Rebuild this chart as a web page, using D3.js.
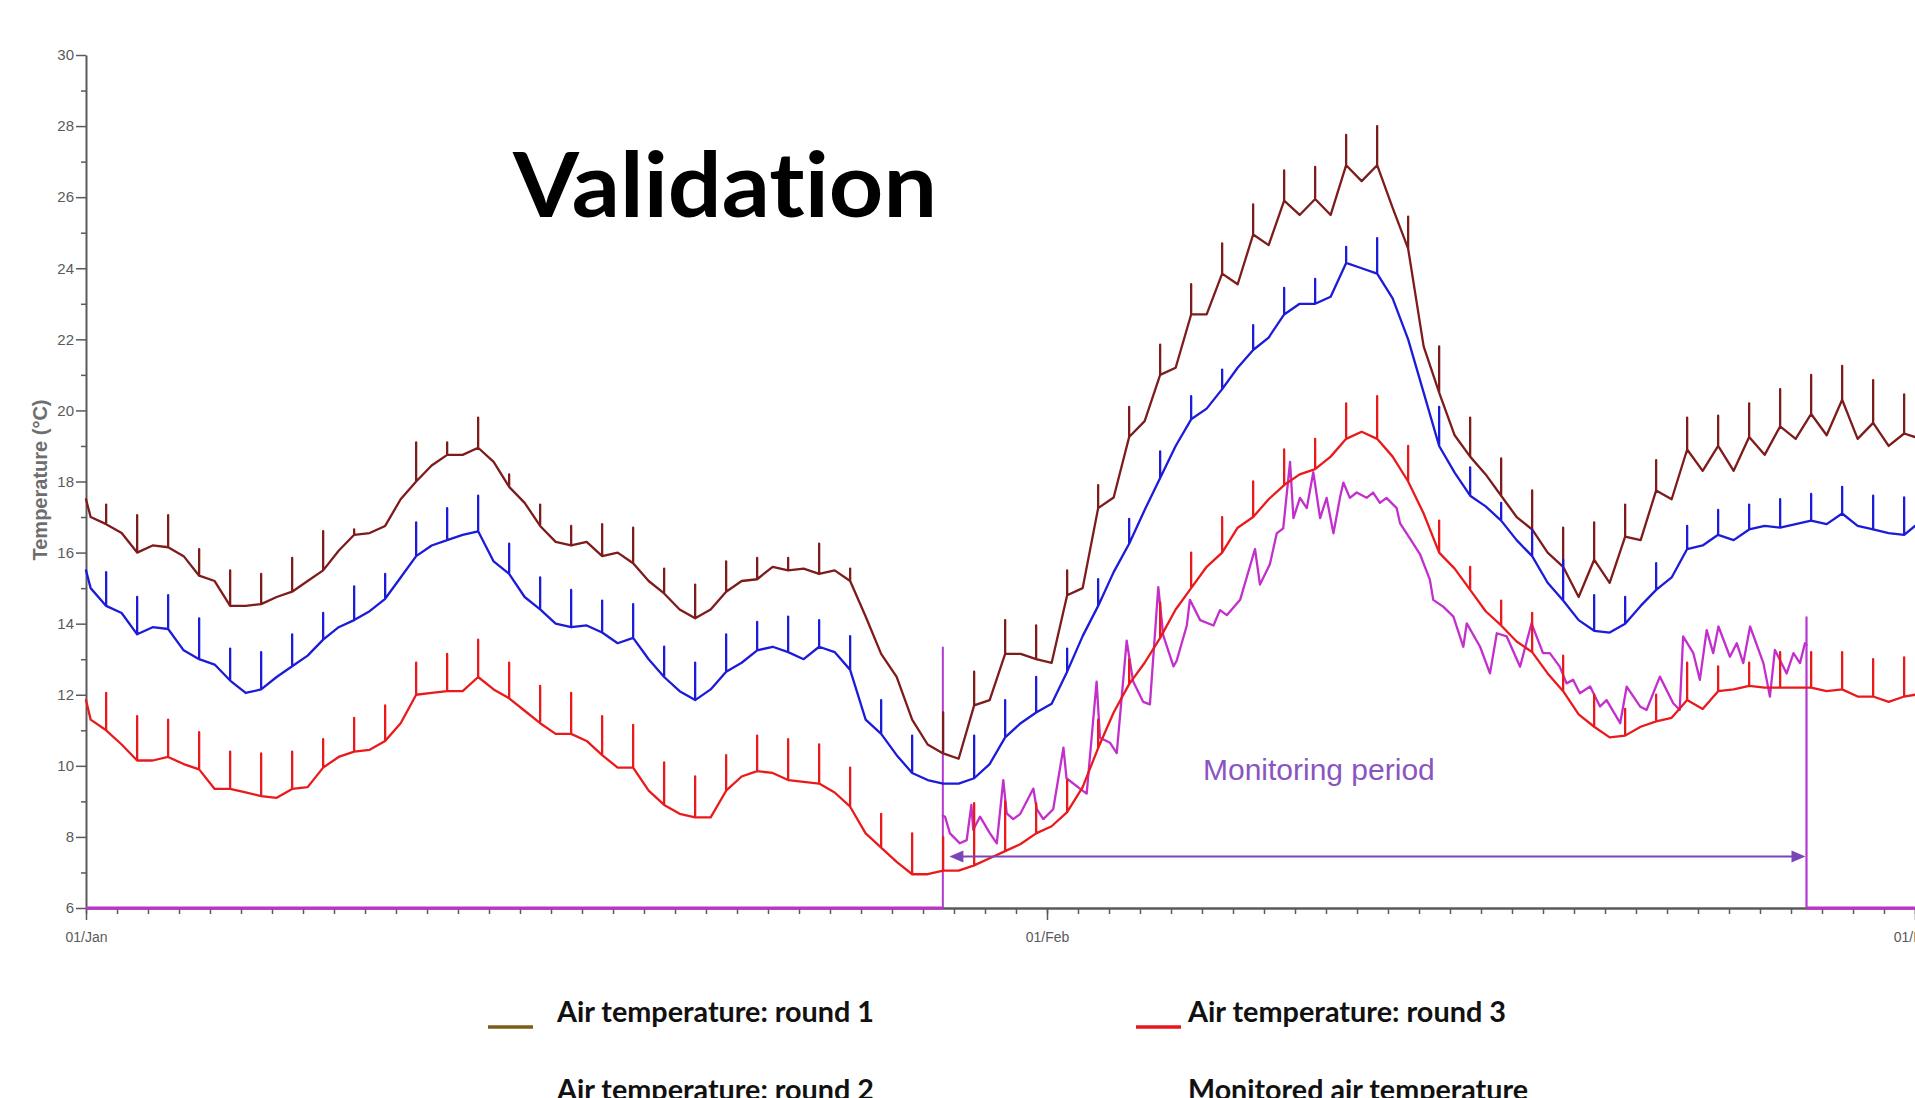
<!DOCTYPE html>
<html><head><meta charset="utf-8">
<script src="https://cdn.jsdelivr.net/npm/d3@7"></script>
<style>
html,body{margin:0;padding:0;background:#fff;overflow:hidden}
svg{display:block}
</style></head>
<body>
<svg id="chart" width="1915" height="1098"></svg>
<script>
// ---------------- DATA ----------------
const dayCount = 59;                        // 01/Jan .. 01/Mar
const monthLabels = ["01/Jan", "01/Feb", "01/Mar"];
const monthDays = [0, 31, 59];
const yTickValues = [6, 8, 10, 12, 14, 16, 18, 20, 22, 24, 26, 28, 30];
const yMinorValues = [7, 9, 11, 13, 15, 17, 19, 21, 23, 25, 27, 29];

// sample times: start, then two readings per day (night low / afternoon), end
const sampleTimes = [0].concat(d3.range(dayCount).flatMap(d => [d + 0.15, d + 0.65]), [dayCount]);
// daily spike occurs at the afternoon reading (d + 0.65)

const round1Base = [17.5,
 17.0,16.8, 16.55,16.0, 16.2,16.15, 15.9,15.35, 15.2,14.5, 14.5,14.55, 14.75,14.9, 15.2,15.5, 16.05,16.5, 16.55,16.75,
 17.5,18.0, 18.45,18.75, 18.75,18.95, 18.55,17.85, 17.4,16.75, 16.3,16.2, 16.3,15.9, 16.0,15.7, 15.2,14.85, 14.4,14.15,
 14.4,14.9, 15.2,15.25, 15.6,15.5, 15.55,15.4, 15.5,15.2, 14.2,13.15, 12.5,11.3, 10.6,10.35, 10.2,11.7, 11.85,13.15,
 13.15,13.0, 12.9,14.8, 15.0,17.25, 17.55,19.25, 19.7,21.0, 21.2,22.7, 22.7,23.85, 23.55,24.95, 24.65,25.9, 25.5,25.95,
 25.5,26.9, 26.45,26.9, 25.7,24.55, 21.8,20.5, 19.3,18.7, 18.2,17.6, 17.0,16.65, 16.0,15.6, 14.75,15.8, 15.15,16.45,
 16.35,17.75, 17.5,18.9, 18.3,19.0, 18.3,19.25, 18.75,19.55, 19.2,19.9, 19.3,20.3, 19.2,19.65, 19.0,19.35,
 19.25];
const round1Spikes = [17.35,17.05,17.05,16.1,15.5,15.4,15.85,16.6,16.65,null,
 19.1,19.1,19.8,18.2,17.35,16.75,16.8,16.7,15.55,15.1,
 15.75,15.85,15.85,16.25,15.55,null,null,11.5,12.65,14.1,
 13.95,15.5,17.9,20.1,21.85,23.55,24.7,25.8,26.75,26.85,
 27.75,28.0,25.45,21.8,19.8,18.65,17.75,16.7,16.85,17.35,
 18.6,19.8,19.85,20.2,20.6,21.0,21.25,20.85,20.45];

const round2Base = [15.5,
 15.0,14.5, 14.3,13.7, 13.9,13.85, 13.25,13.0, 12.85,12.4, 12.05,12.15, 12.5,12.8, 13.1,13.55, 13.9,14.1, 14.35,14.7,
 15.3,15.9, 16.2,16.35, 16.5,16.6, 15.75,15.4, 14.75,14.4, 14.0,13.9, 13.95,13.75, 13.45,13.6, 13.0,12.5, 12.1,11.85,
 12.15,12.65, 12.9,13.25, 13.35,13.2, 13.0,13.35, 13.2,12.7, 11.3,10.9, 10.3,9.8, 9.6,9.5, 9.5,9.65, 10.05,10.8,
 11.2,11.5, 11.75,12.65, 13.65,14.5, 15.45,16.25, 17.2,18.1, 19.0,19.75, 20.05,20.6, 21.2,21.7, 22.05,22.7, 23.0,23.0,
 23.2,24.15, 24.0,23.85, 23.15,22.0, 20.5,19.0, 18.25,17.6, 17.3,16.9, 16.35,15.9, 15.15,14.65, 14.1,13.8, 13.75,14.0,
 14.5,14.95, 15.3,16.1, 16.2,16.5, 16.35,16.65, 16.75,16.7, 16.8,16.9, 16.8,17.1, 16.75,16.65, 16.55,16.5,
 16.75];
const round2Spikes = [15.45,14.75,14.8,14.15,13.3,13.2,13.7,14.3,15.05,15.4,
 16.85,17.25,17.6,16.25,15.3,14.95,14.65,14.55,13.35,12.9,
 13.7,14.05,14.2,14.1,13.65,11.85,10.85,null,10.85,11.85,
 12.5,13.3,15.25,16.95,18.85,20.4,21.15,22.4,23.45,23.7,
 24.6,24.85,null,20.1,18.4,17.4,16.65,15.8,14.8,14.75,
 15.7,16.75,17.2,17.35,17.5,17.65,17.85,17.6,17.55];

const round3Base = [11.85,
 11.3,11.0, 10.6,10.15, 10.15,10.25, 10.05,9.9, 9.35,9.35, 9.25,9.15, 9.1,9.35, 9.4,9.95, 10.25,10.4, 10.45,10.7,
 11.2,12.0, 12.05,12.1, 12.1,12.5, 12.15,11.9, 11.55,11.2, 10.9,10.9, 10.7,10.3, 9.95,9.95, 9.3,8.9, 8.65,8.55,
 8.55,9.3, 9.7,9.85, 9.8,9.6, 9.55,9.5, 9.25,8.85, 8.1,7.7, 7.3,6.95, 6.95,7.05, 7.05,7.2, 7.4,7.6,
 7.8,8.1, 8.3,8.7, 9.4,10.5, 11.5,12.3, 12.9,13.6, 14.4,15.0, 15.6,16.0, 16.7,17.0, 17.5,17.9, 18.2,18.35,
 18.7,19.2, 19.4,19.2, 18.7,18.0, 17.1,16.0, 15.55,14.95, 14.35,13.95, 13.5,13.2, 12.6,12.1, 11.45,11.1, 10.8,10.85,
 11.1,11.25, 11.35,11.85, 11.6,12.1, 12.15,12.25, 12.2,12.2, 12.2,12.2, 12.1,12.15, 11.95,11.95, 11.8,11.95,
 12.0];
const round3Spikes = [12.05,11.4,11.3,10.95,10.4,10.35,10.4,10.75,11.35,11.7,
 12.9,13.15,13.55,12.9,12.25,12.05,11.4,11.15,10.1,9.7,
 10.3,10.85,10.75,10.6,9.95,8.65,8.1,8.0,8.95,9.0,
 8.95,9.6,11.3,13.0,14.6,16.0,17.0,18.0,18.9,19.2,
 20.2,20.4,19.0,16.9,15.6,14.65,14.3,13.1,12.0,11.6,
 12.0,12.9,12.8,12.9,13.2,13.2,13.2,13.0,13.05];

// monitored air temperature: [day, °C] vertices inside the monitoring period
const monitored = [
 [27.64,8.6],[27.71,8.57],[27.87,8.1],[28.19,7.82],[28.41,7.91],[28.56,8.9],[28.62,8.2],[28.84,8.57],
 [29.16,8.1],[29.38,7.82],[29.59,9.6],[29.70,8.66],[29.91,8.5],[30.13,8.64],[30.56,9.36],[30.67,8.78],
 [30.88,8.5],[31.2,8.78],[31.53,10.51],[31.63,9.65],[32.06,9.36],[32.28,9.22],[32.6,12.37],[32.71,10.79],
 [33.03,10.65],[33.25,10.36],[33.57,13.52],[33.78,12.37],[34.1,11.8],[34.32,11.73],[34.59,15.03],[34.75,13.67],
 [35.08,12.8],[35.18,12.95],[35.51,13.95],[35.61,14.67],[35.94,14.1],[36.37,13.95],[36.58,14.38],[36.8,14.24],
 [37.23,14.67],[37.71,16.1],[37.87,15.1],[38.19,15.67],[38.41,16.54],[38.62,16.68],[38.84,18.55],[38.95,16.97],
 [39.16,17.54],[39.38,17.25],[39.59,18.26],[39.81,16.97],[40.02,17.54],[40.24,16.54],[40.45,17.54],[40.56,17.97],
 [40.77,17.54],[40.99,17.69],[41.31,17.54],[41.52,17.69],[41.74,17.4],[41.95,17.54],[42.28,17.25],[42.39,16.82],
 [42.71,16.39],[43.03,15.96],[43.35,15.24],[43.46,14.67],[43.78,14.48],[44.11,14.2],[44.43,13.35],[44.54,14.01],
 [44.97,13.35],[45.29,12.6],[45.51,13.73],[45.83,13.64],[46.26,12.79],[46.63,14.01],[47.0,13.17],[47.22,13.17],
 [47.54,12.79],[47.76,12.32],[47.97,12.42],[48.19,12.04],[48.52,12.23],[48.84,11.67],[49.05,11.85],[49.49,11.2],
 [49.7,12.23],[50.13,11.67],[50.34,11.57],[50.77,12.51],[51.2,11.76],[51.41,11.57],[51.52,13.64],[51.85,13.17],
 [52.06,12.42],[52.28,13.82],[52.49,13.17],[52.66,13.92],[53.03,13.07],[53.25,13.45],[53.46,12.89],[53.68,13.92],
 [54.11,12.89],[54.32,11.95],[54.48,13.26],[54.86,12.6],[55.08,13.17],[55.29,12.89],[55.45,13.45],[55.5,13.4]];

const monitoringStart = 27.64, monitoringEnd = 55.5;
const markerTopStart = 13.35, markerTopEnd = 14.2;   // heights of the boundary marker lines (°C)
const arrowLevel = 7.45;                              // °C level of the double arrow
const arrowLeftTip = 27.85;

const seriesNames = ["Air temperature: round 1", "Air temperature: round 2",
                     "Air temperature: round 3", "Monitored air temperature"];

// ---------------- CHART ----------------
const svg = d3.select("#chart");
const x = d3.scaleLinear().domain([0, dayCount]).range([86, 1915]);
const y = d3.scaleLinear().domain([6, 30]).range([908, 55]);

const C = {r1: "#7e1b1b", r2: "#1b1bd9", r3: "#ea1a1c", mon: "#c22fcc", marker: "#b33ad0",
           arrow: "#7a45b6", axis: "#5a5a5a"};

svg.append("rect").attr("width", 1915).attr("height", 1098).attr("fill", "#fff");

// Title
svg.append("text").text("Validation")
  .attr("x", 513).attr("y", 217)
  .attr("textLength", 424).attr("lengthAdjust", "spacingAndGlyphs")
  .style("font-family", "Lato, 'Open Sans', sans-serif").style("font-weight", 700)
  .style("font-variant-ligatures", "none")
  .style("font-size", "90px").attr("fill", "#000");

// Y axis
const yAxis = svg.append("g").attr("transform", `translate(${x(0)},0)`)
  .call(d3.axisLeft(y).tickValues(yTickValues).tickSize(10).tickSizeOuter(0).tickPadding(2));
yAxis.select(".domain").attr("stroke", C.axis).attr("stroke-width", 2);
yAxis.selectAll(".tick line").attr("stroke", C.axis).attr("stroke-width", 1.5);
yAxis.selectAll(".tick text").attr("fill", "#5a5a5a")
  .style("font-family", "'Liberation Sans', Arial, sans-serif").style("font-size", "15px");
const yMinor = svg.append("g").attr("transform", `translate(${x(0)},0)`)
  .call(d3.axisLeft(y).tickValues(yMinorValues).tickSize(5).tickFormat(""));
yMinor.select(".domain").remove();
yMinor.selectAll(".tick line").attr("stroke", C.axis).attr("stroke-width", 1.5);

svg.append("text").text("Temperature (°C)")
  .attr("transform", `translate(47,480) rotate(-90)`).attr("text-anchor", "middle")
  .style("font-family", "'Liberation Sans', Arial, sans-serif").style("font-weight", 700)
  .style("font-size", "20px").attr("fill", "#6e6e6e");

// X axis (daily ticks)
const xAxis = svg.append("g").attr("transform", `translate(0,${y(6)})`)
  .call(d3.axisBottom(x).tickValues(d3.range(0, dayCount + 1)).tickSize(6).tickSizeOuter(0).tickFormat(""));
xAxis.select(".domain").attr("stroke", C.axis).attr("stroke-width", 2.5);
xAxis.selectAll(".tick line").attr("stroke", C.axis).attr("stroke-width", 1.5);
const xMonths = svg.append("g").attr("transform", `translate(0,${y(6)})`)
  .call(d3.axisBottom(x).tickValues(monthDays).tickSize(12).tickPadding(12)
    .tickFormat((d, i) => monthLabels[i]));
xMonths.select(".domain").remove();
xMonths.selectAll(".tick line").attr("stroke", C.axis).attr("stroke-width", 1.5);
xMonths.selectAll(".tick text").attr("fill", "#5a5a5a")
  .style("font-family", "'Liberation Sans', Arial, sans-serif").style("font-size", "14px");

// monitored series baseline (outside the monitoring period it lies on 6 °C)
const lineXY = d3.line().x(d => x(d[0])).y(d => y(d[1]));
svg.append("path").datum([[0, 6], [monitoringStart, 6]]).attr("d", lineXY)
  .attr("stroke", C.mon).attr("stroke-width", 3.2).attr("fill", "none");
svg.append("path").datum([[monitoringEnd, 6], [dayCount, 6]]).attr("d", lineXY)
  .attr("stroke", C.mon).attr("stroke-width", 3.2).attr("fill", "none");

// boundary markers of the monitoring period
svg.append("path").datum([[monitoringStart, 6], [monitoringStart, markerTopStart]]).attr("d", lineXY)
  .attr("stroke", C.marker).attr("stroke-width", 2).attr("fill", "none");
svg.append("path").datum([[monitoringEnd, 6], [monitoringEnd, markerTopEnd]]).attr("d", lineXY)
  .attr("stroke", C.marker).attr("stroke-width", 2.2).attr("fill", "none");

// build spike series
function spikeSeries(base, spikes) {
  const pts = [];
  base.forEach((v, i) => {
    const t = sampleTimes[i];
    pts.push([t, v]);
    if (i >= 2 && i % 2 === 0 && i <= 2 * dayCount) {
      const s = spikes[(i - 2) / 2];
      if (s != null) { pts.push([t, s]); pts.push([t, v]); }
    }
  });
  return pts;
}

const g = svg.append("g").attr("fill", "none").attr("stroke-linejoin", "round").attr("stroke-linecap", "round");
g.append("path").datum(spikeSeries(round1Base, round1Spikes)).attr("d", lineXY)
  .attr("stroke", C.r1).attr("stroke-width", 2.3);
g.append("path").datum(spikeSeries(round2Base, round2Spikes)).attr("d", lineXY)
  .attr("stroke", C.r2).attr("stroke-width", 2.3);
g.append("path").datum(monitored).attr("d", lineXY)
  .attr("stroke", C.mon).attr("stroke-width", 2.3);
g.append("path").datum(spikeSeries(round3Base, round3Spikes)).attr("d", lineXY)
  .attr("stroke", C.r3).attr("stroke-width", 2.3);

// double arrow
const ay = y(arrowLevel);
svg.append("line").attr("x1", x(arrowLeftTip) + 10).attr("x2", x(monitoringEnd) - 12)
  .attr("y1", ay).attr("y2", ay).attr("stroke", C.arrow).attr("stroke-width", 2);
const lt = x(arrowLeftTip), rt = x(monitoringEnd) - 1;
svg.append("path").attr("d", `M${lt},${ay} L${lt + 14},${ay - 6} L${lt + 14},${ay + 6} Z`).attr("fill", C.arrow);
svg.append("path").attr("d", `M${rt},${ay} L${rt - 14},${ay - 6} L${rt - 14},${ay + 6} Z`).attr("fill", C.arrow);

svg.append("text").text("Monitoring period")
  .attr("x", x(39.77)).attr("y", 780).attr("text-anchor", "middle")
  .style("font-family", "'Liberation Sans', Arial, sans-serif").style("font-size", "30px")
  .attr("fill", "#8a55c2");

// Legend (two rows, second row runs off the bottom edge as in the original)
const legend = [
  {name: seriesNames[0], color: "#7d5b18", lx: 488, tx: 557, row: 0, w: 317},
  {name: seriesNames[2], color: "#e8161c", lx: 1136, tx: 1188, row: 0, w: 318},
  {name: seriesNames[1], color: C.r2, lx: 488, tx: 557, row: 1, w: 317},
  {name: seriesNames[3], color: C.mon, lx: 1136, tx: 1188, row: 1, w: 340}
];
const rowY = [1022, 1100];
legend.forEach(l => {
  svg.append("line").attr("x1", l.lx).attr("x2", l.lx + 45)
    .attr("y1", rowY[l.row] + 5).attr("y2", rowY[l.row] + 5)
    .attr("stroke", l.color).attr("stroke-width", 3.5);
  svg.append("text").text(l.name).attr("x", l.tx).attr("y", rowY[l.row])
    .attr("textLength", l.w).attr("lengthAdjust", "spacingAndGlyphs")
    .style("font-family", "Lato, 'Open Sans', sans-serif").style("font-weight", 700)
    .style("font-size", "28px").attr("fill", "#111");
});
</script>
</body></html>
